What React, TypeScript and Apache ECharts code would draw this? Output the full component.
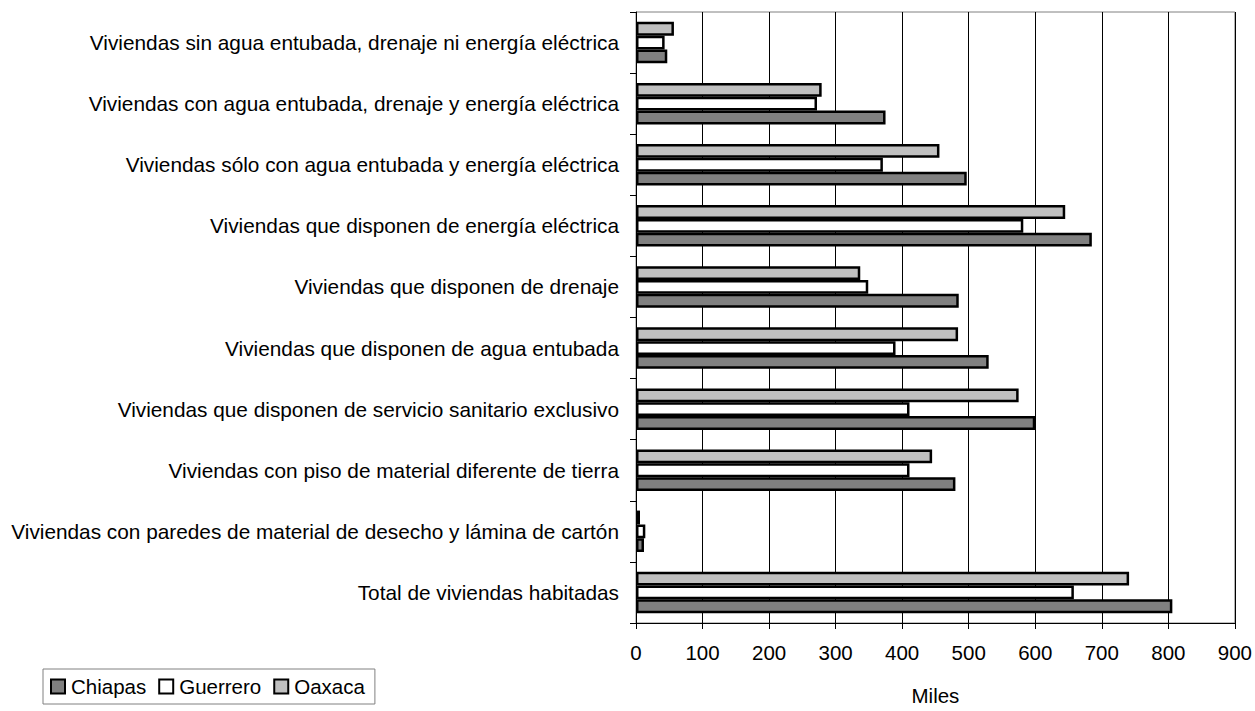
import React, { useEffect, useRef } from "react";
import * as echarts from "echarts";

const categories = [
  "Total de viviendas habitadas",
  "Viviendas con paredes de material de desecho y lámina de cartón",
  "Viviendas con piso de material diferente de tierra",
  "Viviendas que disponen de servicio sanitario exclusivo",
  "Viviendas que disponen de agua entubada",
  "Viviendas que disponen de drenaje",
  "Viviendas que disponen de energía eléctrica",
  "Viviendas sólo con agua entubada y energía eléctrica",
  "Viviendas con agua entubada, drenaje y energía eléctrica",
  "Viviendas sin agua entubada, drenaje ni energía eléctrica",
];

const chiapas = [806, 12, 480, 600, 530, 485, 685, 497, 375, 47];
const guerrero = [658, 14, 411, 411, 390, 349, 582, 371, 272, 43];
const oaxaca = [741, 6, 445, 575, 484, 337, 645, 456, 279, 57];

const legendOrder = ["Chiapas", "Guerrero", "Oaxaca"];
const axisName = "Miles";

const FONT = "'Liberation Sans', Arial, sans-serif";
const FS = 20.8;

export default function App() {
  const ref = useRef<HTMLDivElement>(null);
  useEffect(() => {
    if (!ref.current) return;
    const chart = echarts.init(ref.current, undefined, { renderer: "svg" });
    const barStyle = (color: string) => ({
      color,
      borderColor: "#000",
      borderWidth: 2.5,
    });
    chart.setOption({
      animation: false,
      backgroundColor: "#fff",
      textStyle: { fontFamily: FONT, color: "#000" },
      grid: {
        left: 636,
        right: 20,
        top: 12,
        bottom: 76,
        show: true,
        borderColor: "#808080",
        borderWidth: 1,
        containLabel: false,
      },
      legend: {
        data: legendOrder,
        left: 43,
        top: 669,
        orient: "horizontal",
        icon: "rect",
        itemWidth: 14,
        itemHeight: 14,
        itemGap: 12,
        padding: [7, 10, 7, 7],
        borderColor: "#808080",
        borderWidth: 1,
        backgroundColor: "#fff",
        textStyle: { fontFamily: FONT, fontSize: 20.5, color: "#000", padding: [0, 0, 0, 1] },
        itemStyle: { borderColor: "#000", borderWidth: 2 },
      },
      xAxis: {
        type: "value",
        min: 0,
        max: 900,
        interval: 100,
        name: axisName,
        nameLocation: "middle",
        nameGap: 62,
        nameTextStyle: { fontFamily: FONT, fontSize: 20.5, color: "#000" },
        axisLine: { show: true, lineStyle: { color: "#000", width: 1 } },
        axisTick: { show: true, length: 6, lineStyle: { color: "#000" } },
        axisLabel: { fontFamily: FONT, fontSize: 20.5, color: "#000", margin: 19 },
        splitLine: { show: true, lineStyle: { color: "#000", width: 1 } },
      },
      yAxis: {
        type: "category",
        data: categories,
        axisLine: { show: true, lineStyle: { color: "#000", width: 1 } },
        axisTick: { show: true, length: 6, lineStyle: { color: "#000" } },
        axisLabel: { fontFamily: FONT, fontSize: FS, color: "#000", margin: 17 },
        splitLine: { show: false },
      },
      series: [
        {
          name: "Oaxaca",
          type: "bar",
          data: oaxaca,
          itemStyle: barStyle("#c0c0c0"),
          barGap: "0%",
          barCategoryGap: "32%",
        },
        {
          name: "Guerrero",
          type: "bar",
          data: guerrero,
          itemStyle: barStyle("#ffffff"),
          barGap: "0%",
          barCategoryGap: "32%",
        },
        {
          name: "Chiapas",
          type: "bar",
          data: chiapas,
          itemStyle: barStyle("#808080"),
          barGap: "0%",
          barCategoryGap: "32%",
        },
      ],
    });
    return () => chart.dispose();
  }, []);
  return (
    <div
      ref={ref}
      style={{ position: "fixed", left: 0, top: 0, width: 1255, height: 711 }}
    />
  );
}
